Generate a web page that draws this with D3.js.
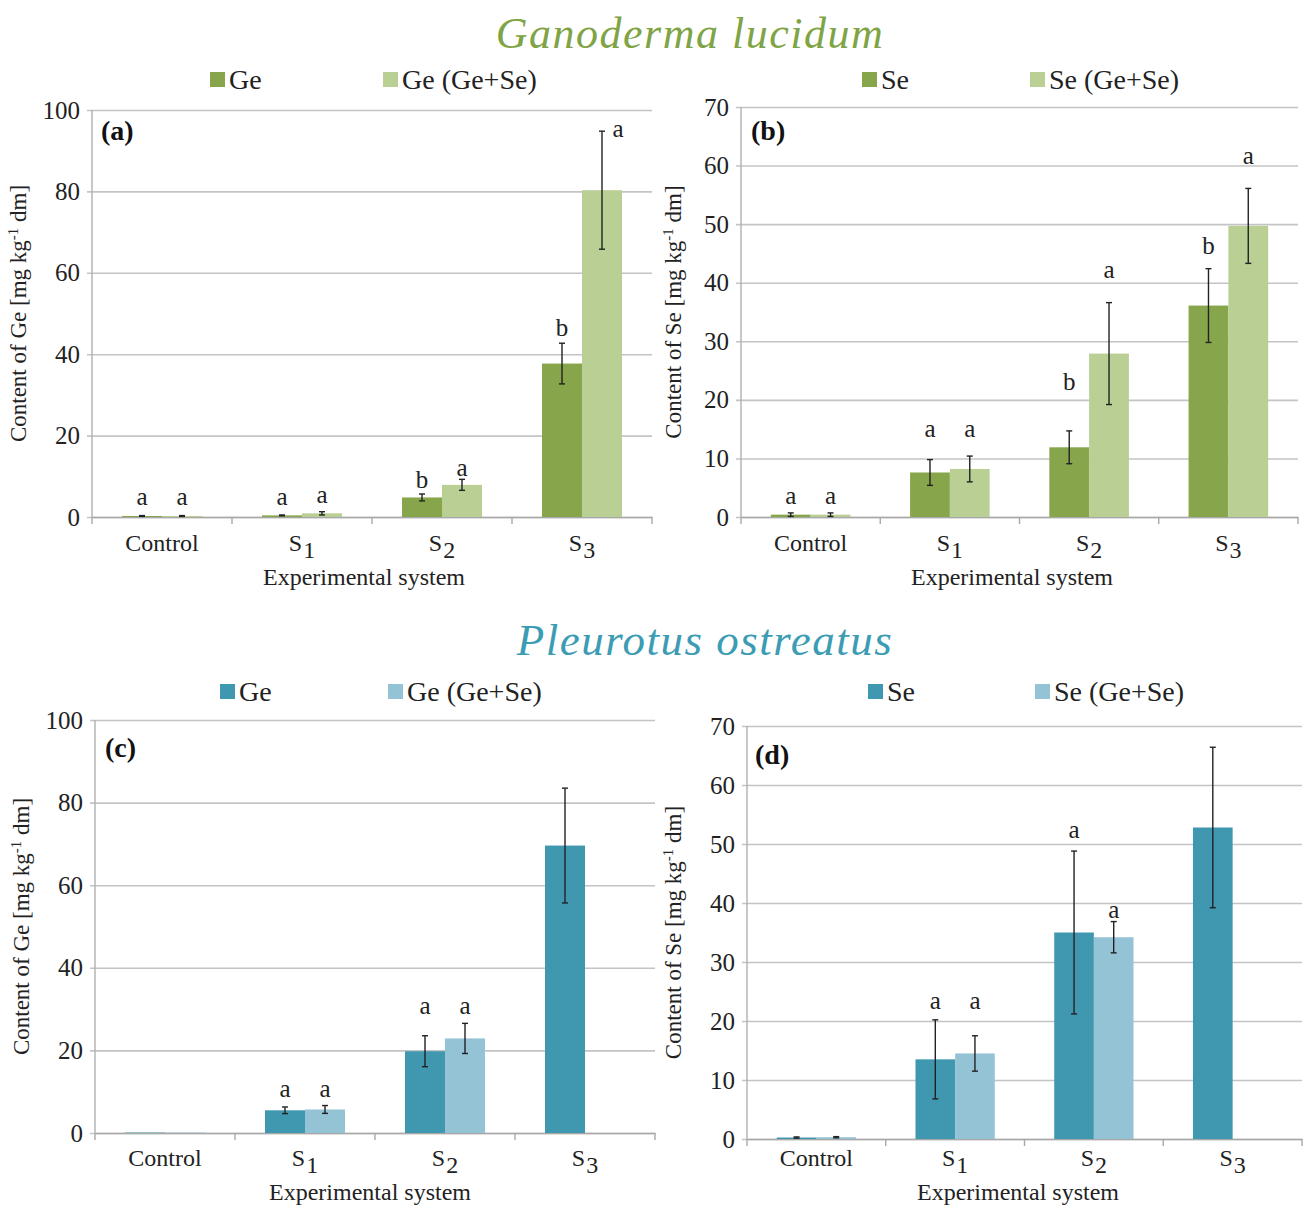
<!DOCTYPE html>
<html>
<head>
<meta charset="utf-8">
<script src="https://cdn.jsdelivr.net/npm/d3@7"></script>
<style>
  body { margin: 0; background: #fff; }
  svg { font-family: 'Liberation Serif', 'Times New Roman', serif; }
</style>
</head>
<body>
<svg id="chart"></svg>
<script>
const W = 1306
const H = 1208
const categories = ['Control', 'S1', 'S2', 'S3']

// Ganoderma lucidum - Ge (a)
const ganoGe = [0.25, 0.4, 4.8, 37.7]
const ganoGeErr = [0.1, 0.1, 0.85, 5.0]
const ganoGeMix = [0.25, 0.9, 7.9, 80.3]
const ganoGeMixErr = [0.1, 0.4, 1.35, 14.5]
const ganoGeLetters = [['a', 'a'], ['a', 'a'], ['b', 'a'], ['b', 'a']]
const ganoGeLetterAt = [[3, 3], [3, 3.5], [7.1, 10], [44.5, 93.4]]

// Ganoderma lucidum - Se (b)
const ganoSe = [0.4, 7.6, 11.9, 36.1]
const ganoSeErr = [0.3, 2.2, 2.8, 6.3]
const ganoSeMix = [0.4, 8.2, 27.9, 49.7]
const ganoSeMixErr = [0.3, 2.2, 8.7, 6.4]
const ganoSeLetters = [['a', 'a'], ['a', 'a'], ['b', 'a'], ['b', 'a']]
const ganoSeLetterAt = [[2.2, 2.2], [13.7, 13.7], [21.7, 40.8], [44.9, 60.3]]

// Pleurotus ostreatus - Ge (c)
const pleuGe = [0.1, 5.5, 19.8, 69.6]
const pleuGeErr = [0, 0.8, 3.75, 13.9]
const pleuGeMix = [0.1, 5.7, 22.9, null]
const pleuGeMixErr = [0, 0.95, 3.65, null]
const pleuGeLetters = [['', ''], ['a', 'a'], ['a', 'a'], ['', '']]
const pleuGeLetterAt = [[0, 0], [8.7, 8.7], [28.8, 28.8], [0, 0]]

// Pleurotus ostreatus - Se (d)
const pleuSe = [0.25, 13.5, 35.0, 52.8]
const pleuSeErr = [0.1, 6.7, 13.8, 13.6]
const pleuSeMix = [0.3, 14.5, 34.2, null]
const pleuSeMixErr = [0.1, 3.0, 2.65, null]
const pleuSeLetters = [['', ''], ['a', 'a'], ['a', 'a'], ['', '']]
const pleuSeLetterAt = [[0, 0], [22, 22], [51, 37.5], [0, 0]]

const green1 = '#87a64c'
const green2 = '#b9cf94'
const teal1 = '#4098b0'
const teal2 = '#94c3d6'

const svg = d3.select('#chart').attr('width', W).attr('height', H)

// species titles
svg.append('text')
    .attr('x', 690).attr('y', 48)
    .attr('text-anchor', 'middle')
    .attr('font-size', 44).attr('font-style', 'italic')
    .attr('letter-spacing', 1.5)
    .attr('fill', '#7fa445')
    .text('Ganoderma lucidum')

svg.append('text')
    .attr('x', 705).attr('y', 655)
    .attr('text-anchor', 'middle')
    .attr('font-size', 45).attr('font-style', 'italic')
    .attr('letter-spacing', 1.5)
    .attr('fill', '#3b9cb4')
    .text('Pleurotus ostreatus')

const panels = [
    {tag: '(a)', x0: 92, x1: 652, yTop: 110, yBot: 517, max: 100, step: 20,
        s1: ganoGe, e1: ganoGeErr, s2: ganoGeMix, e2: ganoGeMixErr,
        letters: ganoGeLetters, letterAt: ganoGeLetterAt,
        c1: green1, c2: green2, names: ['Ge', 'Ge (Ge+Se)'], legX: [210, 383], legY: 80,
        tagPos: [101, 140], yTitle: 'Content of Ge [mg kg', yTitleX: 26,
        tickY: 551, xTitleX: 364, xTitleY: 585},
    {tag: '(b)', x0: 741, x1: 1298, yTop: 107, yBot: 517, max: 70, step: 10,
        s1: ganoSe, e1: ganoSeErr, s2: ganoSeMix, e2: ganoSeMixErr,
        letters: ganoSeLetters, letterAt: ganoSeLetterAt,
        c1: green1, c2: green2, names: ['Se', 'Se (Ge+Se)'], legX: [862, 1030], legY: 80,
        tagPos: [751, 140], yTitle: 'Content of Se [mg kg', yTitleX: 681,
        tickY: 551, xTitleX: 1012, xTitleY: 585},
    {tag: '(c)', x0: 95, x1: 655, yTop: 720, yBot: 1133, max: 100, step: 20,
        s1: pleuGe, e1: pleuGeErr, s2: pleuGeMix, e2: pleuGeMixErr,
        letters: pleuGeLetters, letterAt: pleuGeLetterAt,
        c1: teal1, c2: teal2, names: ['Ge', 'Ge (Ge+Se)'], legX: [220, 388], legY: 692,
        tagPos: [105, 757], yTitle: 'Content of Ge [mg kg', yTitleX: 29,
        tickY: 1166, xTitleX: 370, xTitleY: 1200},
    {tag: '(d)', x0: 747, x1: 1302, yTop: 726, yBot: 1139, max: 70, step: 10,
        s1: pleuSe, e1: pleuSeErr, s2: pleuSeMix, e2: pleuSeMixErr,
        letters: pleuSeLetters, letterAt: pleuSeLetterAt,
        c1: teal1, c2: teal2, names: ['Se', 'Se (Ge+Se)'], legX: [868, 1035], legY: 692,
        tagPos: [755, 764], yTitle: 'Content of Se [mg kg', yTitleX: 681,
        tickY: 1166, xTitleX: 1018, xTitleY: 1200}
]

panels.forEach(p => {
    const g = svg.append('g')

    const x = d3.scaleBand().domain(categories).range([p.x0, p.x1])
    const xi = d3.scaleBand().domain([0, 1]).range([0, x.bandwidth()]).paddingOuter(0.75)
    const y = d3.scaleLinear().domain([0, p.max]).range([p.yBot, p.yTop])

    // gridlines + y labels
    const yAxis = d3.axisLeft(y)
        .tickValues(d3.range(0, p.max + 1, p.step))
        .tickSize(-(p.x1 - p.x0))
        .tickPadding(12)
    const ya = g.append('g')
        .attr('transform', `translate(${p.x0},0)`)
        .call(yAxis)
    ya.select('.domain').remove()
    ya.selectAll('.tick line')
        .attr('x1', -5)
        .attr('stroke', '#c4c4c4')
        .attr('stroke-width', 1.6)
    ya.selectAll('.tick text')
        .attr('font-family', 'Liberation Serif, serif')
        .attr('font-size', 25)
        .attr('fill', '#222')

    // y axis line
    g.append('line')
        .attr('x1', p.x0).attr('x2', p.x0)
        .attr('y1', p.yTop).attr('y2', p.yBot)
        .attr('stroke', '#b0b0b0').attr('stroke-width', 1.4)

    // x axis
    const xa = g.append('g')
        .attr('transform', `translate(0,${p.yBot})`)
        .call(d3.axisBottom(x).tickSize(0))
    xa.select('.domain').attr('stroke', '#a8a8a8').attr('stroke-width', 1.4)
    xa.selectAll('.tick text')
        .attr('font-family', 'Liberation Serif, serif')
        .attr('font-size', 24)
        .attr('fill', '#222')
        .attr('y', p.tickY - p.yBot)
        .attr('dy', 0)
        .each(function (d) {
            if (d === 'Control') return
            const t = d3.select(this).text('')
            t.append('tspan').text(d[0])
            t.append('tspan').attr('dy', 7).attr('dx', 1).text(d.slice(1))
        })
    // boundary ticks
    g.selectAll('.btick')
        .data(categories.map(c => x(c)).concat([p.x1]))
        .join('line')
        .attr('x1', d => d).attr('x2', d => d)
        .attr('y1', p.yBot).attr('y2', p.yBot + 7)
        .attr('stroke', '#a8a8a8').attr('stroke-width', 1.4)

    // bars
    const series = [[p.s1, p.e1, p.c1], [p.s2, p.e2, p.c2]]
    series.forEach(([vals, errs, col], si) => {
        categories.forEach((c, ci) => {
            const v = vals[ci]
            if (v == null) return
            const bx = x(c) + xi(si)
            const cx = bx + xi.bandwidth() / 2
            g.append('rect')
                .attr('x', bx).attr('width', xi.bandwidth())
                .attr('y', y(v)).attr('height', y(0) - y(v))
                .attr('fill', col)
            const e = errs[ci]
            if (e > 0) {
                g.append('line')
                    .attr('x1', cx).attr('x2', cx)
                    .attr('y1', y(v + e)).attr('y2', y(Math.max(v - e, 0)))
                    .attr('stroke', '#222').attr('stroke-width', 1.4)
                ;[v + e, Math.max(v - e, 0)].forEach(ev => {
                    g.append('line')
                        .attr('x1', cx - 3).attr('x2', cx + 3)
                        .attr('y1', y(ev)).attr('y2', y(ev))
                        .attr('stroke', '#222').attr('stroke-width', 1.4)
                })
            }
            const letter = p.letters[ci][si]
            if (letter) {
                const top = v + e > p.max * 0.9
                g.append('text')
                    .attr('x', cx + (top ? 16 : 0))
                    .attr('y', y(p.letterAt[ci][si]))
                    .attr('text-anchor', 'middle')
                    .attr('font-size', 25)
                    .attr('fill', '#222')
                    .text(letter)
            }
        })
    })

    // legend
    p.names.forEach((n, i) => {
        g.append('rect')
            .attr('x', p.legX[i]).attr('y', p.legY - 8)
            .attr('width', 15).attr('height', 15)
            .attr('fill', i === 0 ? p.c1 : p.c2)
        g.append('text')
            .attr('x', p.legX[i] + 19).attr('y', p.legY + 9)
            .attr('font-size', 28)
            .attr('fill', '#222')
            .text(n)
    })

    // panel tag
    g.append('text')
        .attr('x', p.tagPos[0]).attr('y', p.tagPos[1])
        .attr('font-size', 28).attr('font-weight', 'bold')
        .attr('fill', '#111')
        .text(p.tag)

    // y title
    const yc = (p.yTop + p.yBot) / 2
    const yt = g.append('text')
        .attr('transform', `translate(${p.yTitleX},${yc}) rotate(-90)`)
        .attr('text-anchor', 'middle')
        .attr('font-size', 23)
        .attr('fill', '#222')
    yt.append('tspan').text(p.yTitle)
    yt.append('tspan').attr('dy', -8).attr('font-size', 15).text('-1')
    yt.append('tspan').attr('dy', 8).text(' dm]')

    // x title
    g.append('text')
        .attr('x', p.xTitleX).attr('y', p.xTitleY)
        .attr('text-anchor', 'middle')
        .attr('font-size', 24)
        .attr('fill', '#222')
        .text('Experimental system')
})
</script>
</body>
</html>
